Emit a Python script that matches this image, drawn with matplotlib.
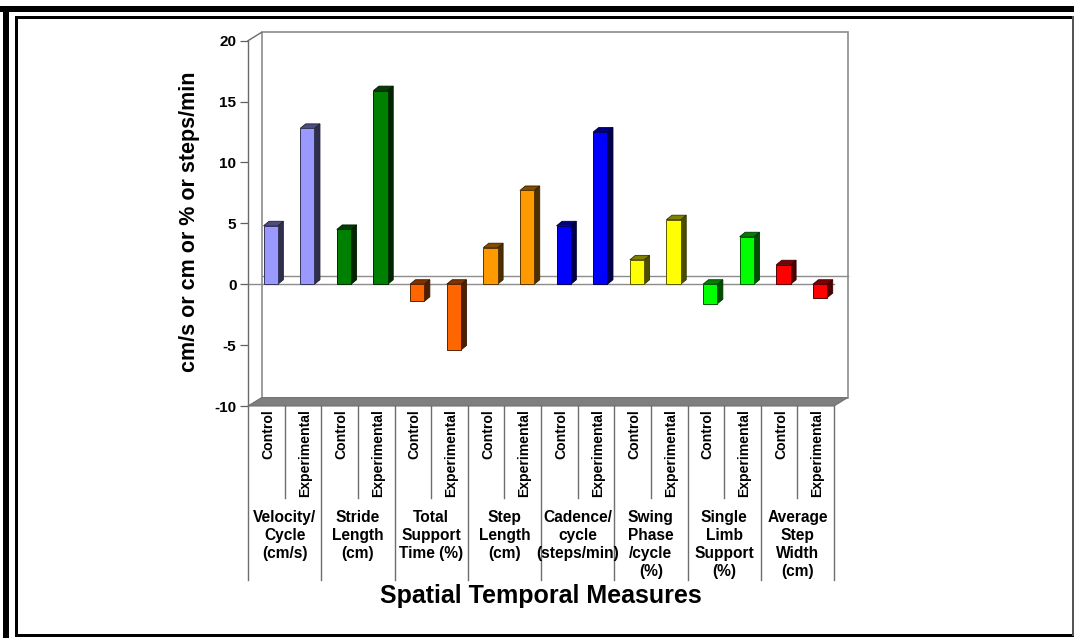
import matplotlib
matplotlib.use('Agg')
import matplotlib.pyplot as plt
from matplotlib.patches import Polygon, Rectangle
from matplotlib.lines import Line2D
import matplotlib.transforms as mtransforms
import matplotlib.colors as mc

# ---------------- data ----------------
groups = ["Velocity/\nCycle\n(cm/s)", "Stride\nLength\n(cm)", "Total\nSupport\nTime (%)",
          "Step\nLength\n(cm)", "Cadence/\ncycle\n(steps/min)", "Swing\nPhase\n/cycle\n(%)",
          "Single\nLimb\nSupport\n(%)", "Average\nStep\nWidth\n(cm)"]
conditions = ["Control", "Experimental"]
control = [4.8, 4.5, -1.4, 3.0, 4.8, 2.0, -1.6, 1.6]
experimental = [12.8, 15.9, -5.4, 7.7, 12.5, 5.3, 3.9, -1.1]
colors = ["#9999FF", "#008000", "#FF6600", "#FF9900", "#0000FF", "#FFFF00", "#00FF00", "#FF0000"]
yticks = [-10, -5, 0, 5, 10, 15, 20]
ylabel = "cm/s or cm or % or steps/min"
xlabel = "Spatial Temporal Measures"

plt.rcParams['font.family'] = ['Liberation Sans', 'DejaVu Sans']
plt.rcParams['font.weight'] = 'bold'

W_PX, H_PX = 1074, 638
fig = plt.figure(figsize=(W_PX / 100, H_PX / 100), dpi=100)
fig.patch.set_facecolor('white')

def fx(px):
    return px / W_PX

def fy(py):
    return 1 - py / H_PX

# front plane of the 3D chart
L, R, T, B = 248, 834, 40.7, 406
ax = fig.add_axes([fx(L), fy(B), fx(R) - fx(L), (B - T) / H_PX])
nslots = 2 * len(groups)
ymin, ymax = yticks[0], yticks[-1]
ax.set_xlim(0, nslots)
ax.set_ylim(ymin, ymax)
ax.patch.set_visible(False)
for s in ax.spines.values():
    s.set_visible(False)
ax.set_xticks([])
ax.set_yticks(yticks)
ax.set_yticklabels([str(t) for t in yticks], fontsize=11, fontweight='bold')
ax.tick_params(axis='y', length=5.8, width=0.9, color='#606060', pad=2.5)

ppx = (R - L) / nslots
ppy = (B - T) / (ymax - ymin)
DX, DY = 13.5 / ppx, 8.3 / ppy      # wall depth
bdx, bdy = 5.5 / ppx, 4.5 / ppy     # bar depth

gray = '#8c8c8c'
# back wall
ax.add_patch(Rectangle((DX, ymin + DY), nslots, ymax - ymin, facecolor='white',
                       edgecolor=gray, lw=1.2, zorder=1, clip_on=False))
# floor
ax.add_patch(Polygon([(0, ymin), (nslots, ymin), (nslots + DX, ymin + DY), (DX, ymin + DY)],
                     closed=True, facecolor='#7f7f7f', edgecolor='#707070', lw=0.8,
                     zorder=2, clip_on=False))
# left wall edges
ax.add_line(Line2D([0, 0], [ymin, ymax], color='#6a6a6a', lw=1.0, zorder=3, clip_on=False))
ax.add_line(Line2D([0, DX], [ymax, ymax + DY], color='#6a6a6a', lw=1.0, zorder=3, clip_on=False))
# zero lines
ax.add_line(Line2D([DX, nslots + DX], [DY, DY], color=gray, lw=1.0, zorder=2, clip_on=False))
ax.add_line(Line2D([0, nslots], [0, 0], color=gray, lw=1.0, zorder=2, clip_on=False))

def shade(c, f):
    r, g, b = mc.to_rgb(c)
    return (r * f, g * f, b * f)

W = 0.39
vals, cols, xs = [], [], []
for g in range(len(groups)):
    for k, v in enumerate((control[g], experimental[g])):
        vals.append(v)
        cols.append(colors[g])
        xs.append(2 * g + k + 0.62)

ax.bar(xs, vals, width=W, color=cols, edgecolor=[shade(c, 0.35) for c in cols],
       linewidth=0.7, zorder=6)
for x, v, c in zip(xs, vals, cols):
    lo, hi = min(v, 0), max(v, 0)
    side = Polygon([(x + W / 2, lo), (x + W / 2 + bdx, lo + bdy), (x + W / 2 + bdx, hi + bdy),
                    (x + W / 2, hi)], closed=True, facecolor=shade(c, 0.3),
                   edgecolor=shade(c, 0.2), lw=0.6, zorder=5)
    top = Polygon([(x - W / 2, hi), (x - W / 2 + bdx, hi + bdy), (x + W / 2 + bdx, hi + bdy),
                   (x + W / 2, hi)], closed=True, facecolor=shade(c, 0.5),
                  edgecolor=shade(c, 0.2), lw=0.6, zorder=5)
    ax.add_patch(side)
    ax.add_patch(top)

# category table below the chart
blend = mtransforms.blended_transform_factory(ax.transData, fig.transFigure)
for k in range(nslots + 1):
    bottom = 580 if k % 2 == 0 else 498
    fig.add_artist(Line2D([k, k], [fy(B), fy(bottom)], transform=blend,
                          color='#6e6e6e', lw=1.0))
for i in range(nslots):
    fig.text(i + 0.55, fy(409.5), conditions[i % 2], transform=blend, rotation=90,
             ha='center', va='top', fontsize=10.1, fontweight='bold')
for g, name in enumerate(groups):
    fig.text(2 * g + 1, fy(510), name, transform=blend, ha='center', va='top',
             multialignment='center', fontsize=11.2, fontweight='bold', linespacing=1.24)

fig.text(fx(541), fy(596), xlabel, ha='center', va='center', fontsize=18, fontweight='bold')
fig.text(fx(190), fy(222), ylabel, ha='center', va='center', rotation=90,
         fontsize=15.5, fontweight='bold')

# frame
def fline(xs_, ys_, lw_px, color='black'):
    fig.add_artist(Line2D([fx(a) for a in xs_], [fy(b) for b in ys_],
                          transform=fig.transFigure, color=color, lw=lw_px * 0.72,
                          solid_capstyle='projecting'))

fline([3, W_PX], [9, 9], 6)
fline([6, 6], [9, H_PX], 6)
fline([15.5, 1072], [16.5, 16.5], 3)
fline([15.5, 15.5], [16.5, 634.5], 3)
fline([15.5, 1072], [634.5, 634.5], 3)
fline([1072.5, 1072.5], [16.5, 634.5], 2, color='#555555')

fig.savefig('out.png', dpi=100, facecolor='white')
